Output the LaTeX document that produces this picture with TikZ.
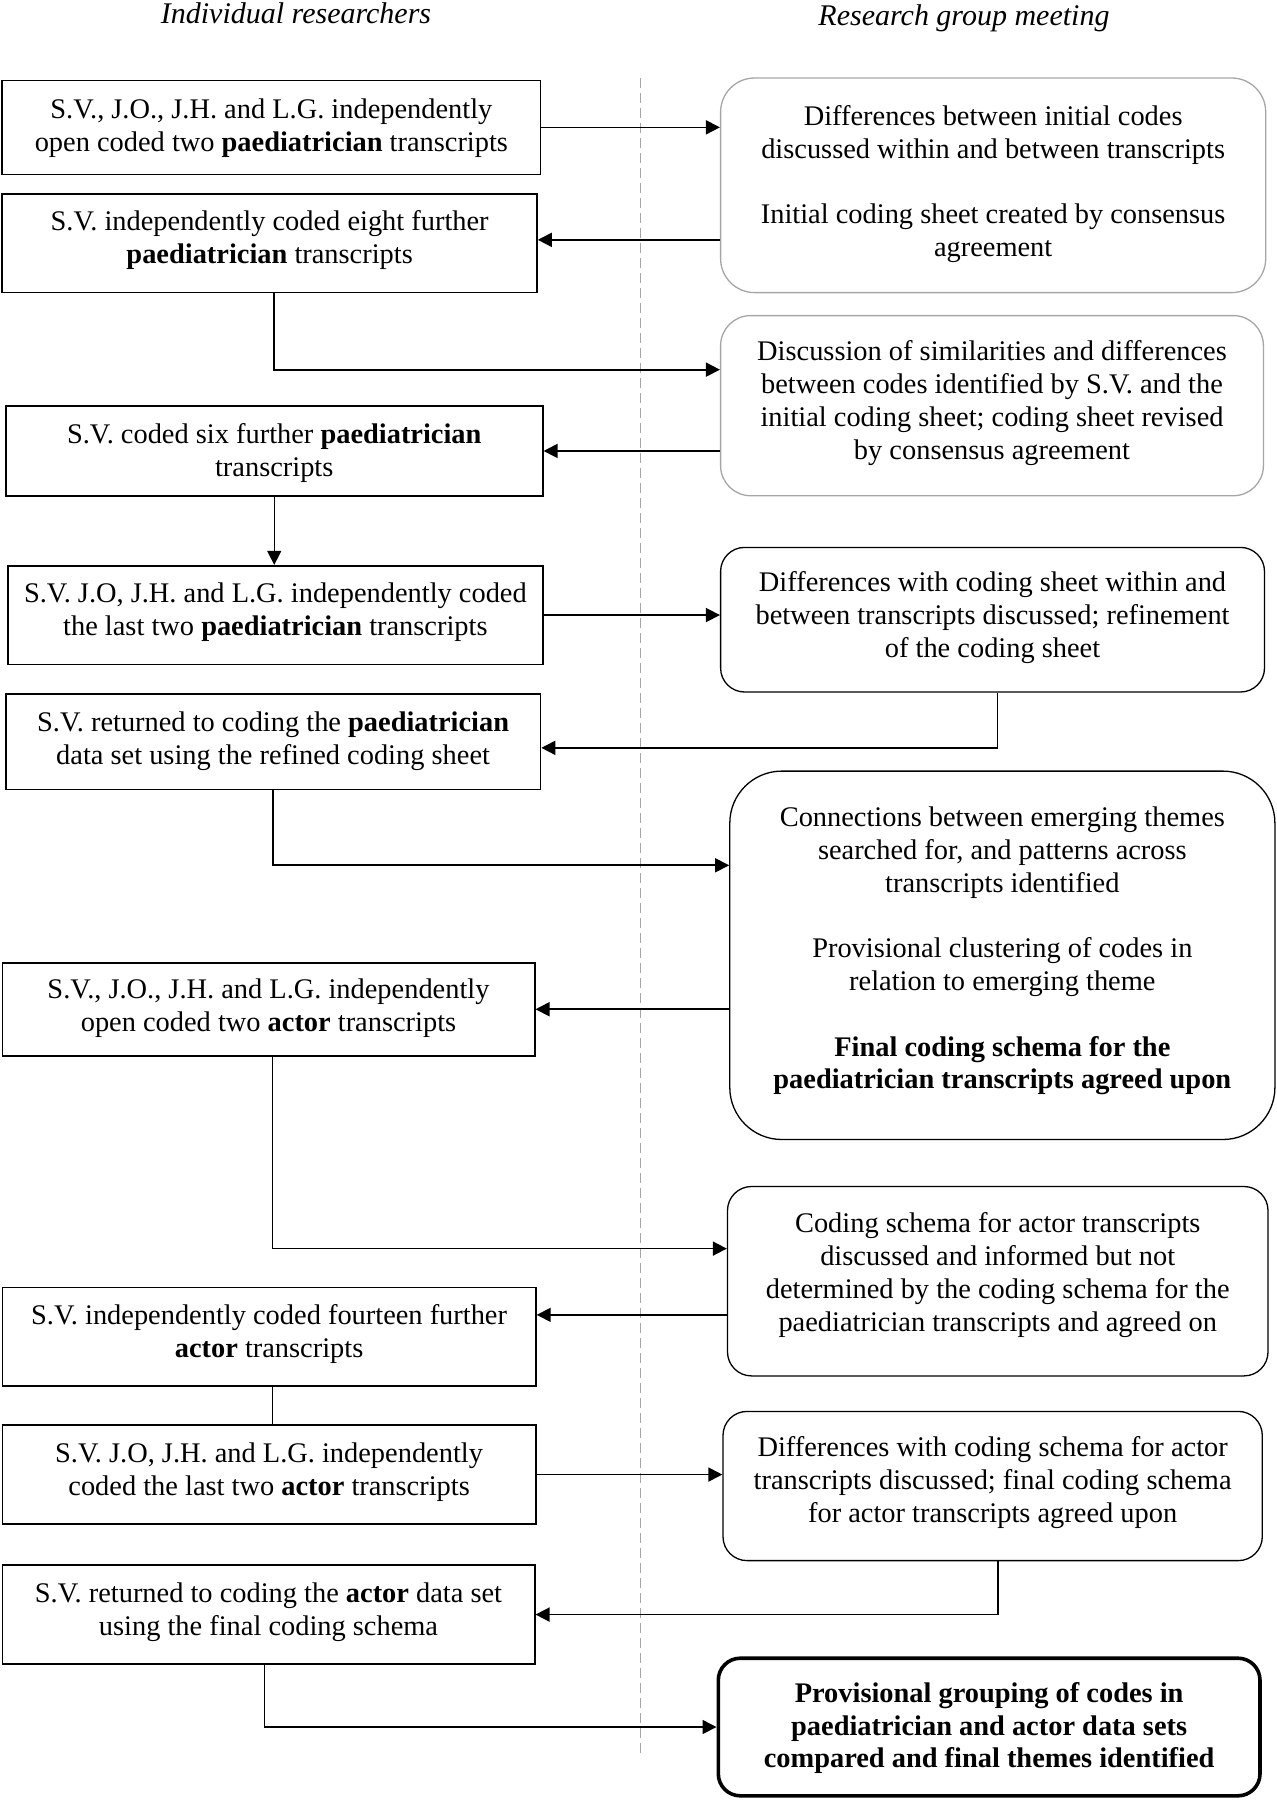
\documentclass[tikz,border=0pt]{standalone}
\usepackage{fontspec}
\setmainfont{Liberation Serif}
\usetikzlibrary{arrows.meta}
\newcommand\mybx[4]{\parbox[c][#2][t]{#1}{\centering\vspace*{\dimexpr#3-11pt\relax}\rule{0pt}{11pt}#4}}
\begin{document}
\begin{tikzpicture}[x=0.5pt,y=-0.5pt,
 every node/.style={font=\fontsize{14.2}{16.4}\selectfont, inner sep=0pt},
 lbox/.style={draw, line width=0.8pt},
 rbox/.style={draw, line width=0.65pt, rounded corners=12pt},
 gbox/.style={rbox, draw=black!35},
 conn/.style={line width=0.85pt, -{Triangle[length=7pt,width=7pt]}},
 thinconn/.style={line width=0.5pt, -{Triangle[length=7pt,width=7pt]}},
 plainline/.style={line width=0.6pt},
 hdr/.style={font=\fontsize{15}{18}\selectfont\itshape, anchor=base}]
\useasboundingbox (0,0) rectangle (1276,1800);

% headers
\node[hdr] (H1) at (296,23) {Individual researchers};
\node[hdr] (H2) at (964,25) {Research group meeting};

% divider
\coordinate (dtop) at (640,78);
\coordinate (dbot) at (640,1756);
\draw[black!35, dash pattern=on 5pt off 2.5pt, line width=0.5pt] (dtop) -- (dbot);

% left column
\node[lbox] (L1) at (271.4,127.35)
 {\mybx{269.1pt}{47.05pt}{19.1pt}{S.V., J.O., J.H. and L.G. independently\\open coded two \textbf{paediatrician} transcripts}};
\node[lbox] (L2) at (269.65,243.25)
 {\mybx{267.35pt}{49.35pt}{18.5pt}{S.V. independently coded eight further\\\textbf{paediatrician} transcripts}};
\node[lbox] (L3) at (274.25,450.95)
 {\mybx{268.55pt}{44.75pt}{18.5pt}{S.V. coded six further \textbf{paediatrician}\\transcripts}};
\node[lbox] (L4) at (275.4,615.05)
 {\mybx{267.4pt}{49.35pt}{18.5pt}{S.V. J.O, J.H. and L.G. independently coded\\the last two \textbf{paediatrician} transcripts}};
\node[lbox] (L5) at (273.1,741.85)
 {\mybx{267.4pt}{47.65pt}{18.5pt}{S.V. returned to coding the \textbf{paediatrician}\\data set using the refined coding sheet}};
\node[lbox] (L6) at (268.5,1009.25)
 {\mybx{266.2pt}{46.45pt}{17.9pt}{S.V., J.O., J.H. and L.G. independently\\open coded two \textbf{actor} transcripts}};
\node[lbox] (L7) at (269.1,1336.85)
 {\mybx{266.8pt}{49.35pt}{18.5pt}{S.V. independently coded fourteen further\\\textbf{actor} transcripts}};
\node[lbox] (L8) at (269.1,1474.55)
 {\mybx{266.8pt}{49.35pt}{18.5pt}{S.V. J.O, J.H. and L.G. independently\\coded the last two \textbf{actor} transcripts}};
\node[lbox] (L9) at (268.5,1614.55)
 {\mybx{266.2pt}{49.35pt}{18.5pt}{S.V. returned to coding the \textbf{actor} data set\\using the final coding schema}};

% right column
\node[gbox, rounded corners=17pt] (R1) at (993.15,185.3)
 {\mybx{272.55pt}{107.3pt}{23.7pt}{Differences between initial codes\\discussed within and between transcripts\\[16.4pt]Initial coding sheet created by consensus\\agreement}};
\node[gbox, rounded corners=15pt] (R2) at (992,405.65)
 {\mybx{271.4pt}{90.05pt}{22.55pt}{Discussion of similarities and differences\\between codes identified by S.V. and the\\initial coding sheet; coding sheet revised\\by consensus agreement}};
\node[rbox] (R3) at (992.55,619.7)
 {\mybx{271.95pt}{72.3pt}{22pt}{Differences with coding sheet within and\\between transcripts discussed; refinement\\of the coding sheet}};
\node[rbox, rounded corners=26pt] (R4) at (1002.35,955.3)
 {\mybx{272.55pt}{184.2pt}{27.7pt}{Connections between emerging themes\\searched for, and patterns across\\transcripts identified\\[16.4pt]Provisional clustering of codes in\\relation to emerging theme\\[16.4pt]\textbf{Final coding schema for the}\\\textbf{paediatrician transcripts agreed upon}}};
\node[rbox] (R5) at (997.75,1281.2)
 {\mybx{270.25pt}{94.7pt}{23.1pt}{Coding schema for actor transcripts\\discussed and informed but not\\determined by the coding schema for the\\paediatrician transcripts and agreed on}};
\node[rbox] (R6) at (992.65,1486)
 {\mybx{269.65pt}{74.6pt}{22.55pt}{Differences with coding schema for actor\\transcripts discussed; final coding schema\\for actor transcripts agreed upon}};
\node[rbox, line width=1.8pt, rounded corners=11pt, font=\fontsize{14.2}{16.4}\selectfont\bfseries] (R7) at (989.15,1727)
 {\mybx{270.85pt}{68.8pt}{22pt}{Provisional grouping of codes in\\paediatrician and actor data sets\\compared and final themes identified}};

% connectors
\draw[conn] (L1.east) -- (L1.east -| R1.west);
\coordinate (c2) at ([yshift=1.7pt]L2.east);
\draw[conn] (c2 -| R1.west) -- (c2);
\draw[conn] ([xshift=2pt]L2.south) |- ([yshift=18pt]R2.west);
\draw[conn] (R2.west |- L3.east) -- (L3.east);
\draw[thinconn] (L3.south) -- (L3.south |- L4.north);
\draw[conn] (L4.east) -- (L4.east -| R3.west);
\draw[conn] ([xshift=2.5pt]R3.south) |- ([yshift=-3pt]L5.east);
\draw[conn] (L5.south) |- ([yshift=45pt]R4.west);
\draw[conn] (R4.west |- L6.east) -- (L6.east);
\draw[conn] ([xshift=2pt]L6.south) |- ([yshift=16.3pt]R5.west);
\coordinate (c11) at ([yshift=11pt]L7.east);
\draw[conn] (c11 -| R5.west) -- (c11);
\draw[plainline] ([xshift=1.5pt]L7.south) -- ([xshift=1.5pt]L8.north);
\draw[conn] (L8.east) -- (L8.east -| R6.west);
\draw[conn] ([xshift=2.5pt]R6.south) |- (L9.east);
\draw[conn] ([xshift=-2pt]L9.south) |- (R7.west);
\end{tikzpicture}
\end{document}
